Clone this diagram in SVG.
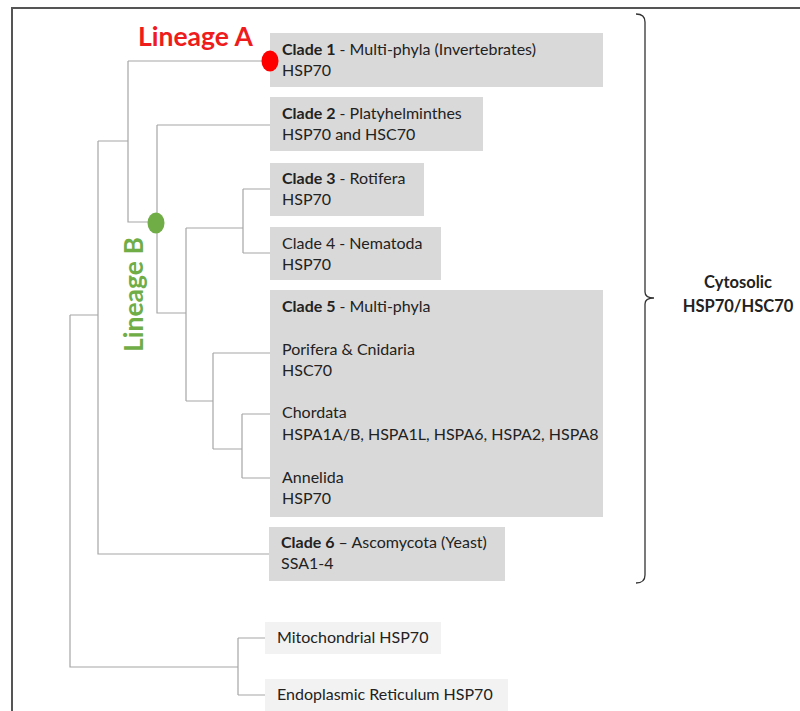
<svg xmlns="http://www.w3.org/2000/svg" width="800" height="711" viewBox="0 0 800 711">
<style>
.box{fill:#d9d9d9}
.lbox{fill:#f2f2f2}
.t{font-family:Lato,"Liberation Sans",sans-serif;font-size:16px;fill:#222}
.b{font-weight:bold}
.br{fill:none;stroke:#a6a6a6;stroke-width:1.2}
</style>
<rect width="800" height="711" fill="#fff"/>
<path d="M12 711 V8 H800" fill="none" stroke="#555" stroke-width="2"/>
<g id="connectors">
<path class="br" d="M128 61 H270 M128 61 V222 H156 M98 141 H128 M98 141 V554 H270 M70 315 H98 M70 315 V667 H238 M238 638 V695 M238 638 H265 M238 695 H265"/>
<path class="br" d="M157 125 H270 M157 125 V313 H186 M186 228 V401 M186 228 H243 M243 189 V253 M243 189 H270 M243 253 H270 M186 401 H213 M213 353 V449 M213 353 H270 M213 449 H242 M242 414 V478 M242 414 H270 M242 478 H270"/>
</g>
<g id="clade1"><rect class="box" x="270" y="33" width="333" height="54"/>
<text class="t" x="282" y="55"><tspan class="b">Clade 1</tspan> - Multi-phyla (Invertebrates)</text>
<text class="t" x="282" y="76">HSP70</text></g>
<g id="clade2"><rect class="box" x="270" y="97" width="213" height="54"/>
<text class="t" x="282" y="119"><tspan class="b">Clade 2</tspan> - Platyhelminthes</text>
<text class="t" x="282" y="140">HSP70 and HSC70</text></g>
<g id="clade3"><rect class="box" x="270" y="163" width="154" height="53"/>
<text class="t" x="282" y="184"><tspan class="b">Clade 3</tspan> - Rotifera</text>
<text class="t" x="282" y="205">HSP70</text></g>
<g id="clade4"><rect class="box" x="270" y="227" width="171" height="53"/>
<text class="t" x="282" y="249">Clade 4 - Nematoda</text>
<text class="t" x="282" y="270">HSP70</text></g>
<g id="clade5"><rect class="box" x="270" y="290" width="333" height="227"/>
<text class="t" x="282" y="312"><tspan class="b">Clade 5</tspan> - Multi-phyla</text>
<text class="t" x="282" y="355">Porifera &amp; Cnidaria</text>
<text class="t" x="282" y="376">HSC70</text>
<text class="t" x="282" y="418">Chordata</text>
<text class="t" x="282" y="440">HSPA1A/B, HSPA1L, HSPA6, HSPA2, HSPA8</text>
<text class="t" x="282" y="483">Annelida</text>
<text class="t" x="282" y="504">HSP70</text></g>
<g id="clade6"><rect class="box" x="269" y="527" width="236" height="54"/>
<text class="t" x="281" y="548"><tspan class="b">Clade 6</tspan> – Ascomycota (Yeast)</text>
<text class="t" x="281" y="569">SSA1-4</text></g>
<g id="mito"><rect class="lbox" x="265" y="622" width="176" height="32"/>
<text class="t" x="277" y="643">Mitochondrial HSP70</text></g>
<g id="er"><rect class="lbox" x="265" y="679" width="243" height="32"/>
<text class="t" x="277" y="700">Endoplasmic Reticulum HSP70</text></g>
<g id="lineageA">
<ellipse cx="270" cy="61" rx="8.5" ry="10.5" fill="#ff0000"/>
<text x="138" y="46" font-family="Lato,'Liberation Sans',sans-serif" font-size="26.5" font-weight="bold" fill="#ee1c1c">Lineage A</text></g>
<g id="lineageB">
<ellipse cx="156" cy="223" rx="8.5" ry="10.5" fill="#70ad47"/>
<text transform="translate(143 352) rotate(-90)" font-family="Lato,'Liberation Sans',sans-serif" font-size="26.5" font-weight="bold" fill="#70ad47">Lineage B</text></g>
<g id="bracket">
<path d="M636 14 Q645 14 645 22 V292 Q645 298 654 298 Q645 298 645 304 V575 Q645 583 636 583" fill="none" stroke="#333" stroke-width="1.3"/>
<text class="t b" x="738" y="288" text-anchor="middle" style="font-size:16.5px">Cytosolic</text>
<text class="t b" x="738" y="312" text-anchor="middle" style="font-size:16.5px">HSP70/HSC70</text></g>
</svg>
